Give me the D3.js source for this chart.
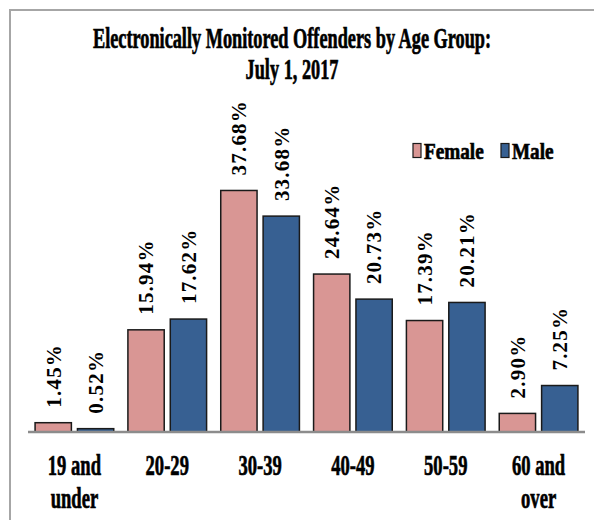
<!DOCTYPE html>
<html>
<head>
<meta charset="utf-8">
<script src="https://cdn.jsdelivr.net/npm/d3@7/dist/d3.min.js"></script>
<style>
  html, body { margin: 0; padding: 0; background: #fff; }
  text { font-family: "Liberation Serif", "Times New Roman", serif; font-weight: bold; fill: #000; }
  .heavy { stroke: #000; stroke-width: 0.7px; }
</style>
</head>
<body>
<div id="chart"></div>
<script>
const categories = ['19 and\nunder', '20-29', '30-39', '40-49', '50-59', '60 and\nover'];
const seriesNames = ['Female', 'Male'];
const femaleValues = [1.45, 15.94, 37.68, 24.64, 17.39, 2.90];
const maleValues = [0.52, 17.62, 33.68, 20.73, 20.21, 7.25];
const titleLines = ['Electronically Monitored Offenders by Age Group:', 'July 1, 2017'];

const colors = { Female: '#d99694', Male: '#376092' };

const width = 594;
const height = 520;

const svg = d3.select('#chart')
    .append('svg')
    .attr('width', width)
    .attr('height', height);

// frame (only top and left edges show)
svg.append('path')
    .attr('d', 'M10,' + height + 'V10H' + width)
    .attr('fill', 'none')
    .attr('stroke', '#a6a6a6')
    .attr('stroke-width', 2);

// title, squeezed like the original
const titleBaselines = [48, 79];
titleLines.forEach((line, i) => {
    svg.append('g')
        .attr('transform', `translate(292,${titleBaselines[i]}) scale(0.63,1)`)
        .append('text')
        .attr('class', 'heavy')
        .attr('text-anchor', 'middle')
        .attr('font-size', 29)
        .text(line);
});

const x0 = d3.scaleBand()
    .domain(categories)
    .range([28, 585])
    .padding(0);

const x1 = d3.scaleBand()
    .domain(seriesNames)
    .range([0, x0.bandwidth()])
    .paddingInner(0.143)
    .paddingOuter(0.167);

const y = d3.scaleLinear()
    .domain([0, 40])
    .range([432, 175.6]);

const rows = categories.map((c, i) => ({
    category: c,
    values: [
        { key: 'Female', value: femaleValues[i] },
        { key: 'Male', value: maleValues[i] }
    ]
}));

const groups = svg.append('g').attr('class', 'bars')
    .selectAll('g')
    .data(rows)
    .enter()
    .append('g')
    .attr('transform', d => `translate(${x0(d.category)},0)`);

groups.selectAll('rect')
    .data(d => d.values)
    .enter()
    .append('rect')
    .attr('x', d => x1(d.key))
    .attr('y', d => y(d.value))
    .attr('width', x1.bandwidth())
    .attr('height', d => y(0) - y(d.value))
    .attr('fill', d => colors[d.key])
    .attr('stroke', '#1a1a1a')
    .attr('stroke-width', 1.5);

// value labels, rotated
groups.selectAll('text.value')
    .data(d => d.values)
    .enter()
    .append('text')
    .attr('class', 'value')
    .attr('transform', d => `translate(${x1(d.key) + x1.bandwidth() / 2},${y(d.value) - 15}) rotate(-90)`)
    .attr('dy', '0.35em')
    .attr('font-size', 21)
    .attr('letter-spacing', 1.2)
    .text(d => d.value.toFixed(2) + '%');

// baseline
svg.append('line')
    .attr('x1', 28)
    .attr('x2', 585)
    .attr('y1', y(0))
    .attr('y2', y(0))
    .attr('stroke', '#8c8c8c')
    .attr('stroke-width', 2.5);

// category labels
const catLabels = svg.append('g').attr('class', 'x-labels')
    .selectAll('g')
    .data(categories)
    .enter()
    .append('g')
    .attr('transform', d => `translate(${x0(d) + x0.bandwidth() / 2},475) scale(0.62,1)`);

catLabels.each(function (d) {
    const t = d3.select(this).append('text')
        .attr('class', 'heavy')
        .attr('text-anchor', 'middle')
        .attr('font-size', 30);
    d.split('\n').forEach((part, i) => {
        t.append('tspan')
            .attr('x', 0)
            .attr('y', i * 33)
            .text(part);
    });
});

// legend
const legendItems = [
    { key: 'Female', swatchX: 413, textX: 424 },
    { key: 'Male', swatchX: 501, textX: 512 }
];

const legend = svg.append('g').attr('class', 'legend');
legendItems.forEach(item => {
    legend.append('rect')
        .attr('x', item.swatchX)
        .attr('y', 143.5)
        .attr('width', 8)
        .attr('height', 14)
        .attr('fill', colors[item.key])
        .attr('stroke', '#1a1a1a')
        .attr('stroke-width', 1.2);
    legend.append('g')
        .attr('transform', `translate(${item.textX},159) scale(0.8,1)`)
        .append('text')
        .attr('class', 'heavy')
        .attr('font-size', 24)
        .text(item.key);
});
</script>
</body>
</html>
